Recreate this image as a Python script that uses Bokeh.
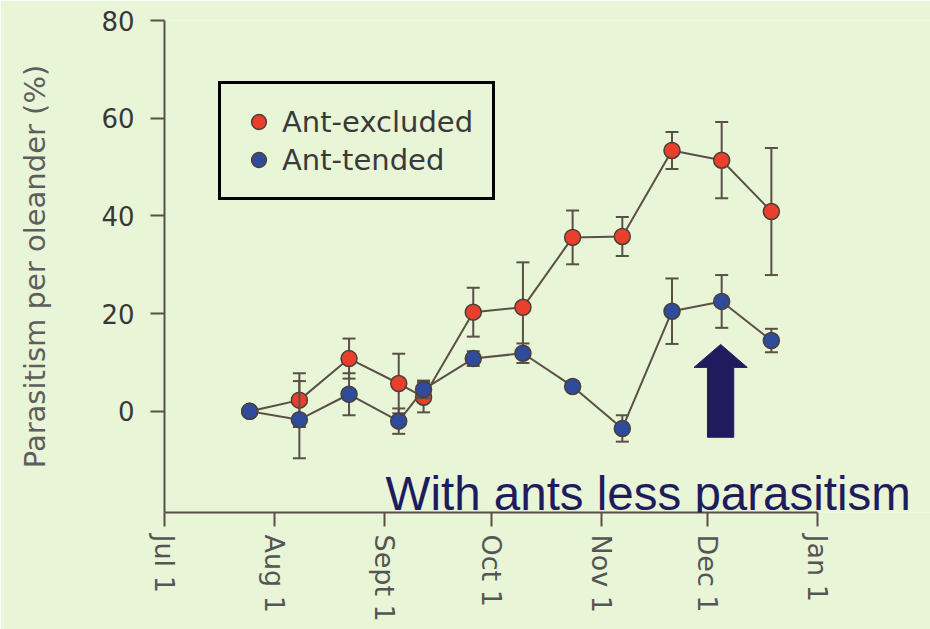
import pandas as pd
from bokeh.plotting import figure
from bokeh.models import (FixedTicker, Range1d, Legend, LegendItem, Label,
                          ColumnDataSource)
from bokeh.embed import file_html
from bokeh.resources import INLINE

# ---------------- data ----------------
sample_dates = ["2000-07-25", "2000-08-08", "2000-08-22", "2000-09-05",
                "2000-09-12", "2000-09-26", "2000-10-10", "2000-10-24",
                "2000-11-07", "2000-11-21", "2000-12-05", "2000-12-19"]
excluded = [0, 2.3, 10.8, 5.7, 2.9, 20.3, 21.3, 35.6, 35.8, 53.4, 51.4, 40.9]
excluded_err = [0, 5.5, 4.1, 6.1, 3.1, 5.0, 9.2, 5.5, 4.0, 3.8, 7.8, 13.0]
tended = [0, -1.7, 3.5, -2.0, 4.5, 10.8, 11.9, 5.1, -3.5, 20.5, 22.5, 14.5]
tended_err = [0, 7.9, 4.3, 2.6, 1.8, 1.5, 2.0, 1.0, 2.7, 6.7, 5.4, 2.4]

tick_dates = ["2000-07-01", "2000-08-01", "2000-09-01", "2000-10-01",
              "2000-11-01", "2000-12-01", "2001-01-01"]
tick_labels = ["Jul 1", "Aug 1", "Sept 1", "Oct 1", "Nov 1", "Dec 1", "Jan 1"]
y_ticks = [0, 20, 40, 60, 80]

annotation_text = "With ants less parasitism"

origin = pd.Timestamp("2000-07-01")
def to_day(d):
    return (pd.Timestamp(d) - origin).days

days = [to_day(d) for d in sample_dates]
tick_days = [to_day(d) for d in tick_dates]

BG = "#e8f5d7"
AX = "#5a5047"
RED = "#e8402c"
BLUE = "#2f4b9b"
EDGE = "#4a4037"
NAVY = "#1f1c5e"
FONT = "DejaVu Sans"

W, H = 930, 629
LEFT, AXIS_RIGHT, TOP, BOTTOM = 164, 817, 20, 512
x_start, x_end_axis = tick_days[0], tick_days[-1]
# the frame extends to the right edge so the annotation text is not clipped
x_end = x_start + (x_end_axis - x_start) * (W - LEFT) / (AXIS_RIGHT - LEFT)
y_start, y_end = -20.7, 80

p = figure(width=W, height=H, output_backend="svg", toolbar_location=None,
           x_range=Range1d(x_start, x_end),
           y_range=Range1d(y_start, y_end),
           min_border_left=LEFT, min_border_right=0,
           min_border_top=TOP, min_border_bottom=H - BOTTOM)
p.background_fill_color = BG
p.border_fill_color = BG
p.outline_line_color = None
p.xgrid.visible = False
p.ygrid.visible = False

for ax in (p.xaxis[0], p.yaxis[0]):
    ax.axis_line_color = AX
    ax.axis_line_width = 2
    ax.major_tick_line_color = AX
    ax.major_tick_line_width = 2
    ax.major_tick_out = 14
    ax.major_tick_in = 0
    ax.minor_tick_line_color = None
    ax.major_label_text_font = FONT

p.xaxis.bounds = (x_start, x_end_axis)

p.yaxis.ticker = FixedTicker(ticks=y_ticks)
p.yaxis.major_label_text_font_size = "26px"
p.yaxis.major_label_standoff = 16
p.yaxis.major_label_text_color = "#383838"
p.yaxis.axis_label = "Parasitism per oleander (%)"
p.yaxis.axis_label_text_font = FONT
p.yaxis.axis_label_text_font_size = "29px"
p.yaxis.axis_label_text_font_style = "normal"
p.yaxis.axis_label_text_color = "#5e5e5e"
p.yaxis.axis_label_standoff = 46

p.xaxis.ticker = FixedTicker(ticks=tick_days)
p.xaxis.major_label_overrides = {d: l for d, l in zip(tick_days, tick_labels)}
p.xaxis.major_label_orientation = "vertical"
p.xaxis.major_label_text_font_size = "27px"
p.xaxis.major_label_standoff = 8
p.xaxis.major_label_text_color = "#555555"


def series(vals, errs, color):
    src = ColumnDataSource(dict(x=days, y=vals,
                                lo=[v - e for v, e in zip(vals, errs)],
                                hi=[v + e for v, e in zip(vals, errs)]))
    p.line("x", "y", source=src, line_color=AX, line_width=2)
    p.segment("x", "lo", "x", "hi", source=src, line_color=AX, line_width=2)
    p.scatter("x", "lo", source=src, marker="dash", size=13,
              line_color=AX, line_width=2)
    p.scatter("x", "hi", source=src, marker="dash", size=13,
              line_color=AX, line_width=2)
    r = p.scatter("x", "y", source=src, size=16, fill_color=color,
                  line_color=EDGE, line_width=1.5)
    return r

r_ex = series(excluded, excluded_err, RED)
r_te = series(tended, tended_err, BLUE)

legend = Legend(items=[LegendItem(label="Ant-excluded", renderers=[r_ex]),
                       LegendItem(label="Ant-tended", renderers=[r_te])],
                location=(54, 312))
legend.border_line_color = "black"
legend.border_line_alpha = 1
legend.border_line_width = 3
legend.background_fill_color = BG
legend.background_fill_alpha = 1
legend.label_text_font = FONT
legend.label_text_font_size = "29px"
legend.label_text_color = "#3a3a3a"
legend.glyph_width = 37
legend.glyph_height = 37
legend.label_standoff = 5
legend.spacing = 1
legend.padding = 19
p.add_layout(legend, "center")

# arrow annotation (tip, head base, tail in data units; half-widths in days)
arrow_x = 156.7
arrow_tip, arrow_head_base, arrow_tail = 13.7, 9.0, -5.3
head_half, shaft_half = 7.5, 3.7
p.patch([arrow_x, arrow_x + head_half, arrow_x + shaft_half, arrow_x + shaft_half,
         arrow_x - shaft_half, arrow_x - shaft_half, arrow_x - head_half],
        [arrow_tip, arrow_head_base, arrow_head_base, arrow_tail,
         arrow_tail, arrow_head_base, arrow_head_base],
        fill_color=NAVY, line_color=NAVY, line_width=1)

p.add_layout(Label(x=62.3, y=-16.8, text=annotation_text,
                   text_font="Liberation Sans", text_font_size="47.5px",
                   text_color=NAVY, text_baseline="alphabetic"))

open("out.html", "w").write(file_html(p, INLINE))
